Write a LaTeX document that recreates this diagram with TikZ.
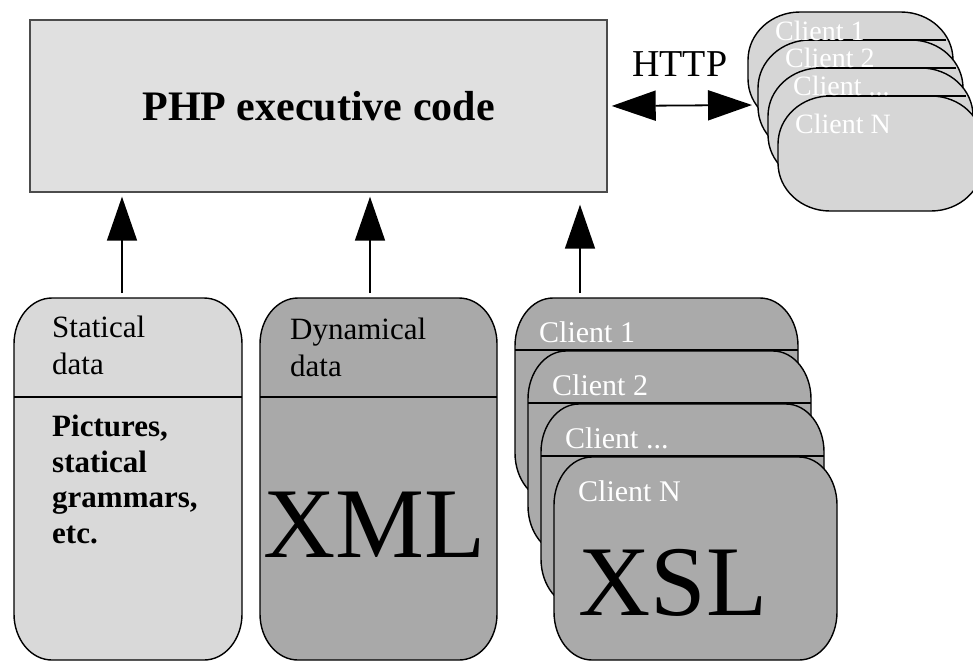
\documentclass[tikz,border=0pt]{standalone}
\usepackage{fontspec}
\setmainfont{Liberation Serif}
\usetikzlibrary{arrows.meta}

\definecolor{phpfill}{HTML}{E0E0E0}
\definecolor{statfill}{HTML}{D9D9D9}
\definecolor{dynfill}{HTML}{A9A9A9}
\definecolor{clientfill}{HTML}{AAAAAA}
\definecolor{remotefill}{HTML}{D6D6D6}

\newcommand\threedots{...}

% rounded box with elliptical corners: [style]{x1}{y1}{x2}{y2}{rx}{ry}, y grows downwards
\newcommand\ovalbox[7][]{%
  \draw[#1] (#2,#3+#7) arc[start angle=180,end angle=270,x radius=#6,y radius=#7]
    -- (#4-#6,#3) arc[start angle=270,end angle=360,x radius=#6,y radius=#7]
    -- (#4,#5-#7) arc[start angle=0,end angle=90,x radius=#6,y radius=#7]
    -- (#2+#6,#5) arc[start angle=90,end angle=180,x radius=#6,y radius=#7] -- cycle;}

\tikzset{
  boxline/.style={draw=black, line width=1.4pt},
  divider/.style={black, line width=1.8pt},
  uparrow/.style={line width=1.6pt, -{Triangle[length=44pt,width=30pt]}},
  twoway/.style={line width=1.8pt, {Triangle[length=44pt,width=30pt]}-{Triangle[length=44pt,width=30pt]}},
  smalltxt/.style={anchor=north west, inner sep=0pt, font=\fontsize{31}{37}\selectfont, align=left},
  boldtxt/.style={smalltxt, font=\fontsize{31}{35.5}\selectfont\bfseries},
  bigtxt/.style={anchor=base west, inner sep=0pt, font=\fontsize{100}{100}\selectfont},
  clienttxt/.style={anchor=base west, inner sep=0pt, text=white, font=\fontsize{30}{30}\selectfont},
  remotetxt/.style={anchor=base west, inner sep=0pt, text=white, font=\fontsize{28}{28}\selectfont},
}

\begin{document}
\begin{tikzpicture}[x=1pt,y=-1pt]
\useasboundingbox (0,0) rectangle (973,665);
\begin{scope}
\clip (0,0) rectangle (973,665);

% PHP server block
\node[draw=black!70, line width=1.4pt, fill=phpfill, minimum width=577pt, minimum height=172pt,
      inner sep=0pt, font=\fontsize{42}{42}\selectfont\bfseries] (php) at (318.5,106) {PHP executive code};

% remote clients: stacked cards, then their rules and labels
\foreach \k in {0,1,2,3}{
  \ovalbox[boxline, fill=remotefill]{748+10*\k}{12+28*\k}{953+10*\k}{127+28*\k}{52}{48}
}
\foreach \k in {0,1,2}{
  \draw[divider] (806+10*\k,40+28*\k) -- (946+10*\k,40+28*\k);
}
\node[remotetxt] (remote0) at (775,40) {Client 1};
\node[remotetxt] (remote1) at (785,67) {Client 2};
\node[remotetxt] (remote2) at (793,95) {Client \threedots};
\node[remotetxt] (remote3) at (795,133) {Client N};
\coordinate (remote) at (752,105);

\node[anchor=base west, inner sep=0pt, font=\fontsize{38}{38}\selectfont] (http) at (632,76) {HTTP};
\draw[twoway, shorten <=4pt] (php.east) -- (remote);

% statical data
\ovalbox[boxline, fill=statfill]{14}{298}{242}{660}{38}{46}
\draw[divider] (14,397) -- (242,397);
\node[smalltxt] (stattitle) at (52,316) {Statical\\data};
\node[boldtxt] (statbody) at (52,415) {Pictures,\\statical\\grammars,\\etc.};

% dynamical data
\ovalbox[boxline, fill=dynfill]{260}{298}{497}{660}{38}{46}
\draw[divider] (260,397) -- (497,397);
\node[smalltxt] (dyntitle) at (290,318) {Dynamical\\data};
\node[bigtxt] (xml) at (263,557) {XML};

% client style sheets
\foreach \k/\lab in {0/Client 1,1/Client 2,2/Client \threedots,3/Client N}{
  \ovalbox[boxline, fill=clientfill]{515+13*\k}{298+53*\k}{798+13*\k}{501+53*\k}{38}{48}
  \ifnum\k<3 \draw[divider] (515+13*\k,350+53*\k) -- (798+13*\k,350+53*\k); \fi
  \node[clienttxt] (client\k) at (539+13*\k,342+53*\k) {\lab};
}
\node[bigtxt] (xsl) at (578,615) {XSL};

% feeds into the PHP code
\coordinate (statsrc) at (122,293);
\coordinate (dynsrc) at (370,293);
\coordinate (xslsrc) at (580,293);
\draw[uparrow, shorten >=4pt] (statsrc) -- (statsrc |- php.south);
\draw[uparrow, shorten >=4pt] (dynsrc) -- (dynsrc |- php.south);
\draw[uparrow, shorten >=12pt] (xslsrc) -- (xslsrc |- php.south);
\end{scope}
\end{tikzpicture}
\end{document}
